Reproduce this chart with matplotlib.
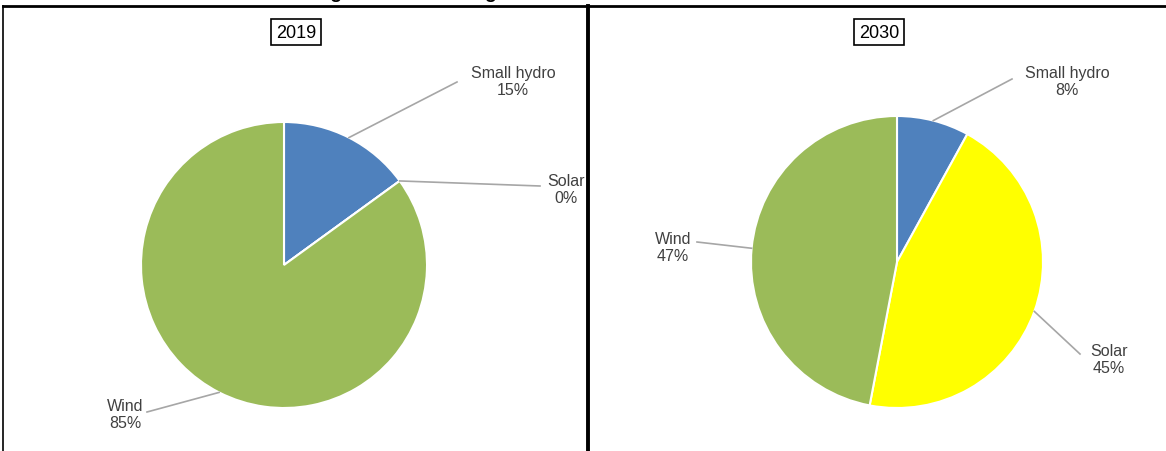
import matplotlib.pyplot as plt
import numpy as np

plt.rcParams['font.family'] = ['Liberation Sans', 'DejaVu Sans']

W, H = 1166, 452

sources = ['Small hydro', 'Solar', 'Wind']
colors = ['#4F81BD', '#FFFF00', '#9BBB59']
share_2019 = [15, 0, 85]
share_2030 = [8, 45, 47]
years = ['2019', '2030']

fig = plt.figure(figsize=(W / 100, H / 100), dpi=100)
fig.patch.set_facecolor('white')

# frame around the two panels
frame = fig.add_axes([0, 0, 1, 1])
frame.set_xlim(0, W)
frame.set_ylim(H, 0)
frame.axis('off')
frame.plot([3, W], [7, 7], color='black', lw=2)
frame.plot([3, 3], [7, H], color='black', lw=1.2)
frame.plot([588, 588], [7, H], color='black', lw=2.8)

# title sits almost entirely above the top edge, only descenders show
fig.text(0.5, 1 + 1.5 / H, 'Figure 3: Installed generation mix of RES in 2019 and 2030',
         ha='center', va='baseline', fontsize=14, fontweight='bold')


def draw_pie(cx, cy, r, values, label_pos, year, year_x):
    ax = fig.add_axes([(cx - r) / W, (H - cy - r) / H, 2 * r / W, 2 * r / H])
    wedges, _ = ax.pie(values, colors=colors, startangle=90, counterclock=False,
                       radius=1, wedgeprops=dict(edgecolor='white', linewidth=1.5))
    ax.set_xlim(-1, 1)
    ax.set_ylim(-1, 1)
    ax.set_aspect('equal')
    for w, name, v, (lx, ly, ex, ey) in zip(wedges, sources, values, label_pos):
        mid = np.deg2rad((w.theta1 + w.theta2) / 2)
        px, py = np.cos(mid), np.sin(mid)
        tx, ty = (lx - cx) / r, (cy - ly) / r
        ax.annotate(f'{name}\n{v}%', xy=(px, py), xytext=(tx, ty),
                    ha='center', va='center', fontsize=11.5, color='#404040',
                    linespacing=1.1, annotation_clip=False)
        ax.plot([px, (ex - cx) / r], [py, (cy - ey) / r], color='#A6A6A6',
                lw=1.2, clip_on=False)
    frame.text(year_x, 33, year, ha='center', va='center', fontsize=13,
               bbox=dict(boxstyle='square,pad=0.25', fc='white', ec='black', lw=1.2))


draw_pie(284, 266, 143, share_2019,
         [(513, 82, 457, 83), (566, 190, 540, 187), (125, 415, 147, 413)],
         years[0], 296)
draw_pie(897, 263, 146, share_2030,
         [(1067, 82, 1012, 80), (1109, 360, 1080, 355), (673, 248, 697, 243)],
         years[1], 879)

fig.savefig('out.png', dpi=100, facecolor='white')
